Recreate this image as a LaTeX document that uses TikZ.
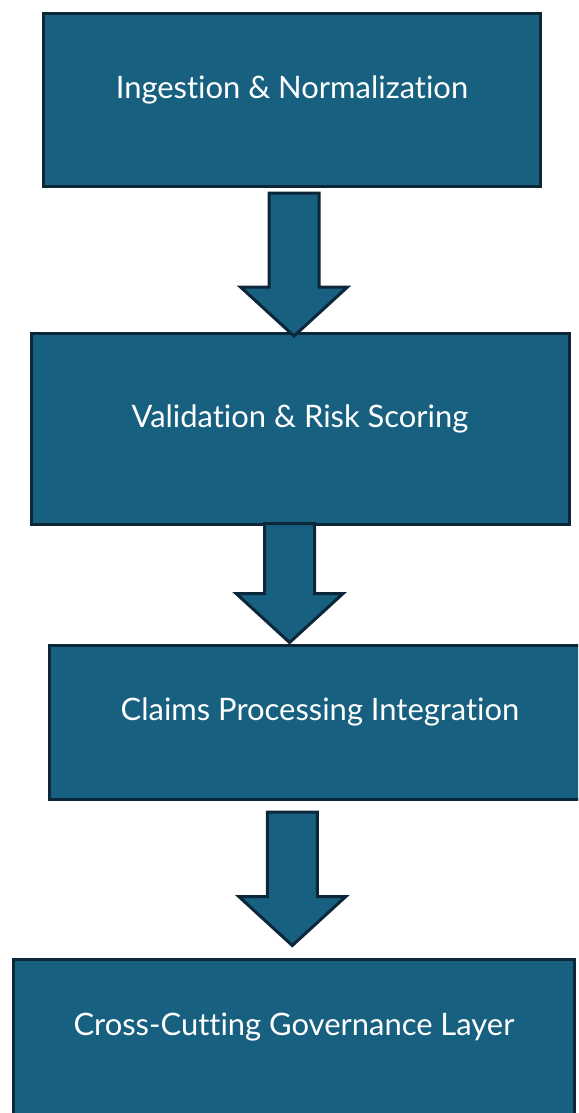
\documentclass[tikz,border=0pt]{standalone}
\usepackage{fontspec}
\setmainfont{Lato}[Ligatures={NoCommon,NoRare}]
\usetikzlibrary{calc}
\usetikzlibrary{positioning}
\definecolor{panel}{HTML}{17607F}
\definecolor{edge}{HTML}{0B2739}
\newcommand{\px}{0.75pt}
\tikzset{
	% stage boxes
	stage/.style={draw=edge,fill=panel,line width=2.25pt,text=white,
		font=\fontsize{23.2}{27}\selectfont,inner sep=0pt,
		text height=16.7pt,text depth=19.5pt},
	% block arrows between stages
	flow/.style={draw=edge,fill=panel,line width=2.25pt,line join=miter},
}
% block arrow from tail point #1 down to tip #2
\newcommand{\flowarrow}[2]{%
	\draw[flow] ($(#1)+(-25,0)$) -- ($(#1)+(25,0)$) -- ($(#2)+(25,-49)$)
		-- ($(#2)+(53.5,-49)$) -- (#2) -- ($(#2)+(-53.5,-49)$)
		-- ($(#2)+(-25,-49)$) -- cycle;}

\begin{document}
\begin{tikzpicture}[x=\px,y=-\px]
\clip (0,0) rectangle (578,1113);
% the four stages
\node[stage,minimum width=497*\px,minimum height=173*\px] (ingest) at (292,100) {Ingestion \& Normalization};
\node[stage,minimum width=538*\px,minimum height=191*\px] (validate) at (300,429) {Validation \& Risk Scoring};
\node[stage,minimum width=541*\px,minimum height=154*\px] (claims) at (320,722.5) {Claims Processing Integration};
\node[stage,minimum width=561*\px,minimum height=155*\px] (governance) at (294,1037) {Cross-Cutting Governance Layer};
% arrow ends
\coordinate (ingest-out) at ($(ingest.south)+(2,5)$);
\coordinate (validate-in) at ($(ingest-out |- validate.north)+(0,4)$);
\coordinate (validate-out) at ($(validate.south)+(-10.4,-2.5)$);
\coordinate (claims-in) at ($(validate-out |- claims.north)+(0,-1.5)$);
\coordinate (claims-out) at ($(claims.south)+(-27.7,11)$);
\coordinate (governance-in) at ($(claims-out |- governance.north)+(0,-12.5)$);
% the arrows
\flowarrow{ingest-out}{validate-in}
\flowarrow{validate-out}{claims-in}
\flowarrow{claims-out}{governance-in}
\end{tikzpicture}
\end{document}
